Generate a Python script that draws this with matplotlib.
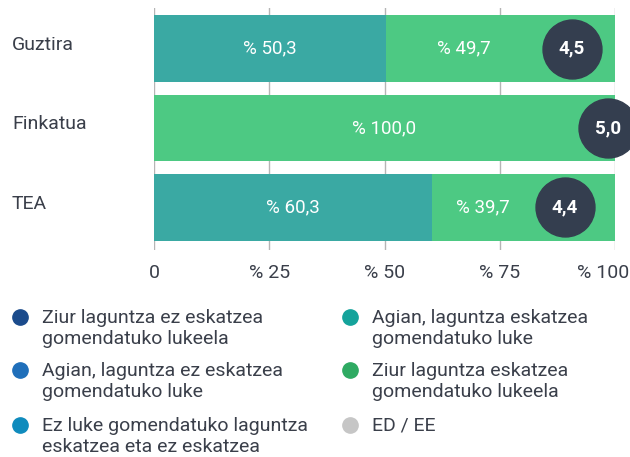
import matplotlib
matplotlib.use("Agg")
import matplotlib.pyplot as plt
from matplotlib import transforms
from matplotlib.lines import Line2D

plt.rcParams['font.family'] = ['Roboto', 'DejaVu Sans']

categories = ["Guztira", "Finkatua", "TEA"]
series_names = [
    "Ziur laguntza ez eskatzea\ngomendatuko lukeela",
    "Agian, laguntza ez eskatzea\ngomendatuko luke",
    "Ez luke gomendatuko laguntza\neskatzea eta ez eskatzea",
    "Agian, laguntza eskatzea\ngomendatuko luke",
    "Ziur laguntza eskatzea\ngomendatuko lukeela",
    "ED / EE",
]
series_colors = ["#1b4b8c", "#1f6fba", "#0f8bbd", "#14a39b", "#2eaa62", "#c6c6c6"]
bar_colors = ["#1b4b8c", "#1f6fba", "#0f8bbd", "#3aa9a3", "#4dc983", "#c6c6c6"]
values = [
    [0, 0, 0],
    [0, 0, 0],
    [0, 0, 0],
    [50.3, 0, 60.3],
    [49.7, 100.0, 39.7],
    [0, 0, 0],
]
scores = [4.5, 5.0, 4.4]
xticks = [0, 25, 50, 75, 100]
xtick_labels = ["0", "% 25", "% 50", "% 75", "% 100"]

text_color = "#3a3f4a"

fig = plt.figure(figsize=(6.3, 4.57), dpi=100)
ax = fig.add_axes([154 / 630, 1 - 250 / 457, (615 - 154) / 630, 242 / 457])

# score axis: maps score to bar position
score_lim = (-1.31, 5.1)
def score_to_pct(s):
    return (s - score_lim[0]) / (score_lim[1] - score_lim[0]) * 100

circle_r = 30 / 461 * 100  # circle radius in % units

y = list(range(len(categories)))
left = [0.0] * len(categories)
for vals, col in zip(values, bar_colors):
    ax.barh(y, vals, left=left, height=0.84, color=col, zorder=2)
    for i, v in enumerate(vals):
        if v > 0:
            end = left[i] + v
            if left[i] > 0 and end >= 100:
                end = score_to_pct(scores[i]) - circle_r
            ax.text((left[i] + end) / 2, y[i], "% " + f"{v:.1f}".replace(".", ","),
                    ha="center", va="center", color="white", fontsize=13.5,
                    zorder=4)
    left = [l + v for l, v in zip(left, vals)]

ax.set_xlim(0, 100)
ax.set_ylim(2.535, -0.51)
ax.set_xticks(xticks)
ax.set_xticklabels(xtick_labels, fontsize=14, color=text_color)
ax.tick_params(axis="x", length=0, pad=10)
last = ax.get_xticklabels()[-1]
last.set_transform(last.get_transform() + transforms.ScaledTranslation(-12 / 100, 0, fig.dpi_scale_trans))
ax.set_yticks([])
ax.grid(axis="x", color="#b5b5b5", linewidth=1, zorder=0)
for s in ax.spines.values():
    s.set_visible(False)

# category labels on the left
trans = transforms.blended_transform_factory(fig.transFigure, ax.transData)
for i, c in enumerate(categories):
    ax.text(12 / 630, y[i] - 0.05, c, transform=trans, ha="left", va="center",
            fontsize=14, color=text_color)

# score circles on a hidden twin axis
ax2 = ax.twiny()
ax2.set_xlim(*score_lim)
ax2.set_axis_off()
ax2.scatter(scores, y, s=1800, color="#343e4f", zorder=5, clip_on=False)
for sc, yi in zip(scores, y):
    ax2.text(sc, yi, f"{sc:.1f}".replace(".", ","), ha="center", va="center",
             color="white", fontsize=13.5, fontweight="bold", zorder=6, clip_on=False)

# legend
col_x = [20 / 630, 350 / 630]
row_y = [317, 370, 425]
for k, (name, col) in enumerate(zip(series_names, series_colors)):
    cx = col_x[k // 3]
    ry = 1 - row_y[k % 3] / 457
    fig.add_artist(Line2D([cx], [ry], marker="o", markersize=11, color=col,
                          linestyle="none", transform=fig.transFigure))
    n_lines = name.count("\n") + 1
    fig.text(cx + 22 / 630, ry - (n_lines - 1) * 11.5 / 457, name, ha="left", va="center",
             fontsize=14, color=text_color, linespacing=1.2)

fig.savefig("out.png", dpi=100)
